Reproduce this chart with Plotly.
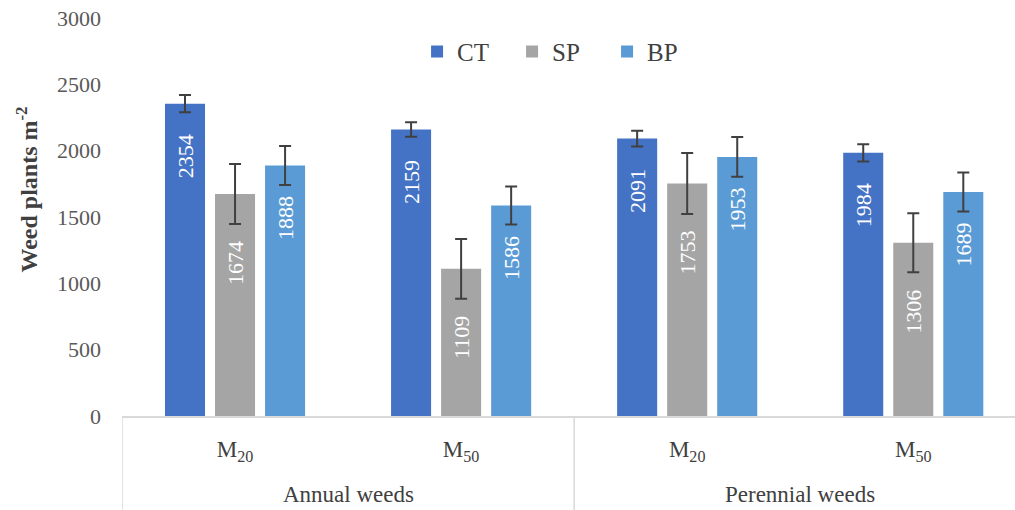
import plotly.graph_objects as go

groups = ["Annual weeds", "Perennial weeds"]
categories = ["Annual M20", "Annual M50", "Perennial M20", "Perennial M50"]
tick_labels = ["M<sub>20</sub>", "M<sub>50</sub>", "M<sub>20</sub>", "M<sub>50</sub>"]

ct = [2354, 2159, 2091, 1984]
sp = [1674, 1109, 1753, 1306]
bp = [1888, 1586, 1953, 1689]

ct_err = [65, 55, 60, 65]
sp_err = [226, 226, 230, 222]
bp_err = [147, 143, 150, 147]

serif = "Liberation Serif, Times New Roman, serif"
NBSP = "\u00a0"

series = [
    ("CT", ct, ct_err, "#4472C4", 5),
    ("SP", sp, sp_err, "#A5A5A5", 8),
    ("BP", bp, bp_err, "#5B9BD5", 5),
]

fig = go.Figure()
for name, vals, err, col, pad in series:
    fig.add_trace(go.Bar(
        name=name,
        x=categories,
        y=vals,
        marker=dict(color=col, line=dict(width=0)),
        error_y=dict(type="data", array=err, visible=True, color="#404040", thickness=2, width=6),
        text=[str(v) + NBSP * pad for v in vals],
        textposition="inside",
        insidetextanchor="end",
        textangle=-90,
        textfont=dict(family=serif, size=22, color="white"),
        cliponaxis=False,
    ))

# group labels and dividers below the axis
fig.add_annotation(text=groups[0], x=0.5, xref="x", y=-0.198, yref="paper", yanchor="middle",
                   showarrow=False, font=dict(family=serif, size=23, color="#404040"))
fig.add_annotation(text=groups[1], x=2.5, xref="x", y=-0.198, yref="paper", yanchor="middle",
                   showarrow=False, font=dict(family=serif, size=23, color="#404040"))
for xv in (-0.5, 1.5):
    fig.add_shape(type="line", x0=xv, x1=xv, xref="x", y0=0, y1=-0.25, yref="paper",
                  line=dict(color="#D9D9D9", width=1.5))

fig.add_annotation(text="<b>Weed plants m<sup>-2</sup></b>", textangle=-90,
                   x=-0.106, xref="paper", y=0.57, yref="paper", xanchor="center", yanchor="middle",
                   showarrow=False, font=dict(family=serif, size=24, color="#404040"))

fig.update_layout(
    width=1015, height=510,
    margin=dict(l=122, r=0, t=18, b=94),
    plot_bgcolor="white", paper_bgcolor="white",
    barmode="group", bargap=0.336, bargroupgap=0.2,
    font=dict(family=serif, color="#404040"),
    showlegend=True,
    legend=dict(orientation="h", x=0.49, xanchor="center", y=0.915, yanchor="middle",
                font=dict(family=serif, size=25, color="#404040"),
                entrywidth=50, entrywidthmode="pixels", itemwidth=30, traceorder="normal"),
    xaxis=dict(type="category", range=[-0.5, 3.45], automargin=False,
               tickmode="array", tickvals=categories, ticktext=tick_labels,
               showline=True, linecolor="#D9D9D9", linewidth=1.5,
               tickfont=dict(family=serif, size=23, color="#404040"),
               ticks="", ticklabelstandoff=12, showgrid=False),
    yaxis=dict(range=[0, 3000], dtick=500, showgrid=False, zeroline=False, showline=False,
               automargin=False, ticklabeloverflow="allow",
               tickfont=dict(family=serif, size=22, color="#595959"), ticks="",
               ticklabelstandoff=20),
)

# remove the browser's default 8px body margin so the figure fills the window exactly
fig.write_html("out.html", config={"displayModeBar": False},
               post_script="document.body.style.margin='0';")
